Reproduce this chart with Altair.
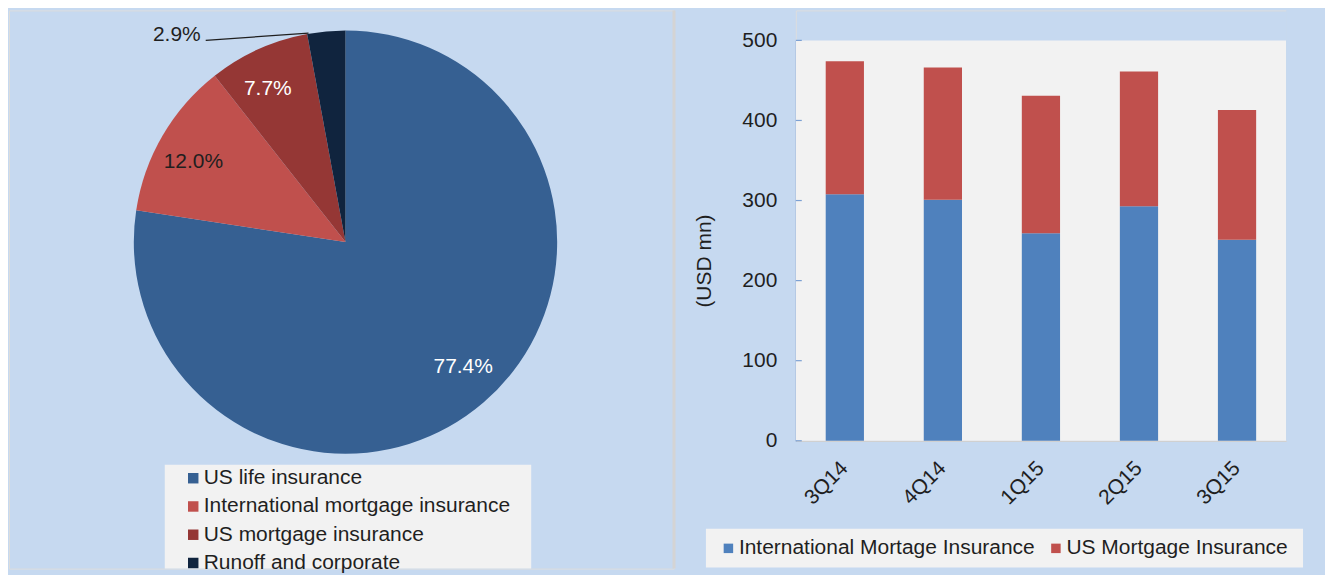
import altair as alt
import pandas as pd

# ---------------- data ----------------
segments = ["US life insurance", "International mortgage insurance",
            "US mortgage insurance", "Runoff and corporate"]
shares = [77.4, 12.0, 7.7, 2.9]
share_labels = ["77.4%", "12.0%", "7.7%", "2.9%"]

quarters = ["3Q14", "4Q14", "1Q15", "2Q15", "3Q15"]
intl_mi = [308, 301, 259, 293, 251]
us_mi = [166, 165, 172, 168, 162]
series = ["International Mortage Insurance", "US Mortgage Insurance"]
y_ticks = [0, 100, 200, 300, 400, 500]

# ---------------- styles ----------------
FONT = "Liberation Sans"
BG = "#C6D9F0"
PANEL = "#F2F2F2"
TXT = "#1F1F1F"
seg_colors = ["#366092", "#C0504D", "#953735", "#10243E"]
bar_colors = ["#4F81BD", "#C0504D"]
AXIS_BLUE = "#7BA0D3"

# ---------------- left: pie ----------------
pie_df = pd.DataFrame({
    "segment": segments,
    "share": shares,
    "label": share_labels,
    "idx": list(range(len(segments))),
})
pie_df["inside"] = [l if s > 5 else "" for l, s in zip(share_labels, shares)]

pbase = alt.Chart(pie_df)
one = pbase.transform_filter("datum.idx == 0")
small = pbase.transform_filter("datum.share < 5")

LW, LH = 666, 559
CX, CY = 337, 232

legend_box = one.mark_rect(color=PANEL).encode(
    x=alt.value(156), x2=alt.value(523), y=alt.value(455), y2=alt.value(LH))

divider = one.mark_rule(color="#D4D4D4", strokeWidth=3).encode(
    x=alt.value(666), y=alt.value(0), y2=alt.value(LH))

arcs = pbase.mark_arc(outerRadius=212).encode(
    theta=alt.Theta("share:Q", stack=True),
    order=alt.Order("idx:Q"),
    color=alt.Color("segment:N",
                    scale=alt.Scale(domain=segments, range=seg_colors),
                    legend=alt.Legend(orient="none", legendX=174, legendY=458,
                                      title=None, symbolType="square",
                                      symbolSize=110, symbolStrokeWidth=0,
                                      labelFontSize=21, labelFont=FONT,
                                      labelColor=TXT, labelLimit=500,
                                      labelOffset=0, rowPadding=6.3,
                                      padding=0)),
    x=alt.value(CX), y=alt.value(CY),
)

inside_text = pbase.mark_text(radius=172, thetaOffset=-0.045, fontSize=21,
                              font=FONT).encode(
    theta=alt.Theta("share:Q", stack=True),
    order=alt.Order("idx:Q"),
    text=alt.Text("inside:N"),
    color=alt.condition("datum.idx == 0 || datum.idx == 2",
                        alt.value("white"), alt.value(TXT)),
    x=alt.value(CX), y=alt.value(CY),
)

outside_text = small.mark_text(fontSize=21, font=FONT, align="right",
                               baseline="middle", color=TXT).encode(
    text=alt.Text("label:N"), x=alt.value(192), y=alt.value(25))

leader = small.mark_rule(color=TXT, strokeWidth=1.2).encode(
    x=alt.value(197), y=alt.value(30), x2=alt.value(300), y2=alt.value(22.7))

left = alt.layer(legend_box, divider, arcs, inside_text, outside_text, leader).properties(
    width=LW, height=LH)

# ---------------- right: stacked bars ----------------
bar_df = pd.DataFrame({
    "quarter": quarters * 2,
    "series": [series[0]] * len(quarters) + [series[1]] * len(quarters),
    "value": intl_mi + us_mi,
    "sidx": [0] * len(quarters) + [1] * len(quarters),
})
tick_df = pd.DataFrame({"tick": y_ticks})

RW, RH = 491, 431
yscale = alt.Scale(domain=[0, 500], range=[RH, 30], nice=False, zero=True)
yaxis = alt.Axis(values=y_ticks, title="(USD mn)", titleX=-91,
                 titleY=250.5, titleAngle=270, titleAlign="center",
                 titleBaseline="middle", titleFontSize=21,
                 titleFont=FONT, titleFontWeight="normal",
                 titleColor=TXT, labelFontSize=21, labelFont=FONT,
                 labelColor=TXT, labelPadding=19, ticks=False,
                 tickSize=0, domainColor=AXIS_BLUE, domainWidth=1.5,
                 grid=False)

rbase = alt.Chart(bar_df)
rone = rbase.transform_filter("datum.sidx == 0 && datum.quarter == '3Q14'")

plot_bg = rone.mark_rect(color=PANEL).encode(
    x=alt.value(0), x2=alt.value(RW),
    y=alt.YDatum(500, scale=yscale, axis=yaxis, title="(USD mn)"),
    y2=alt.Y2Datum(0))

rlegend_box = rone.mark_rect(color=PANEL).encode(
    x=alt.value(-90), x2=alt.value(508), y=alt.value(519), y2=alt.value(558))

extend = rone.mark_rect(color=BG).encode(
    x=alt.value(RW), x2=alt.value(529), y=alt.value(0), y2=alt.value(RH))

bars = rbase.mark_bar().encode(
    x=alt.X("quarter:N", sort=quarters,
            scale=alt.Scale(paddingInner=0.61, paddingOuter=0.305),
            axis=alt.Axis(title=None, labelAngle=315, labelFontSize=21,
                          labelFont=FONT, labelColor=TXT, labelPadding=24,
                          labelBaseline="middle", labelAlign="right",
                          ticks=False, tickSize=0, domainColor="#D0D0D0",
                          domainWidth=1.5, grid=False)),
    y=alt.Y("value:Q", stack="zero", scale=yscale, axis=yaxis,
            title="(USD mn)"),
    color=alt.Color("series:N",
                    scale=alt.Scale(domain=series, range=bar_colors),
                    legend=alt.Legend(orient="none", legendX=-78, legendY=528,
                                      direction="horizontal", columns=2,
                                      title=None, symbolType="square",
                                      symbolSize=90, symbolStrokeWidth=0,
                                      labelFontSize=21, labelFont=FONT,
                                      labelColor=TXT, labelLimit=500,
                                      labelOffset=0, columnPadding=10,
                                      padding=0)),
    order=alt.Order("sidx:Q"),
)

tick_rules = alt.Chart(tick_df).mark_rule(color=AXIS_BLUE, strokeWidth=1.2).encode(
    y=alt.Y("tick:Q", scale=yscale, axis=yaxis, title="(USD mn)"),
    x=alt.value(0), x2=alt.value(6))

right = alt.layer(plot_bg, rlegend_box, extend, bars, tick_rules).properties(
    width=RW, height=RH)

chart = alt.hconcat(left, right, spacing=122, bounds="flush").resolve_scale(
    color="independent").resolve_legend(color="independent").properties(
    padding=0, background=BG).configure_view(strokeWidth=0).configure(font=FONT)

chart.save("out.html", embed_options={"renderer": "svg", "actions": False})
